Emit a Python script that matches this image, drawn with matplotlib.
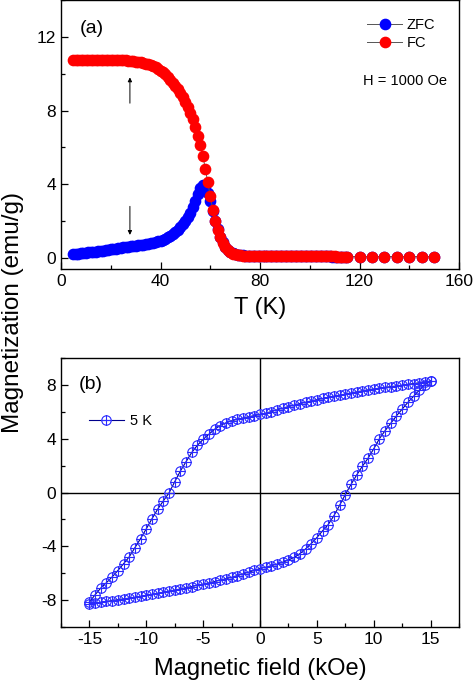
import numpy as np
import matplotlib
matplotlib.use("Agg")
import matplotlib.pyplot as plt
from matplotlib.path import Path
from matplotlib.ticker import MultipleLocator

plt.rcParams["font.family"] = ["Liberation Sans", "DejaVu Sans"]
plt.rcParams["axes.unicode_minus"] = False

# ---- panel (a): M(T), ZFC / FC at H = 1000 Oe ----
temperature = np.concatenate([np.arange(5, 116), np.arange(120, 151, 5)])

zfc = [
    0.22, 0.23, 0.24, 0.25, 0.27, 0.28, 0.30, 0.31, 0.33, 0.34,  # 5-14
    0.36, 0.38, 0.40, 0.42, 0.44, 0.47, 0.49, 0.51, 0.53, 0.55,  # 15-24
    0.57, 0.59, 0.61, 0.63, 0.65, 0.67, 0.69, 0.71, 0.73, 0.75,  # 25-34
    0.77, 0.80, 0.83, 0.86, 0.90, 0.94, 0.99, 1.05, 1.12, 1.20,  # 35-44
    1.30, 1.41, 1.53, 1.67, 1.83, 2.01, 2.22, 2.46, 2.75, 3.08,  # 45-54
    3.45, 3.80, 3.98, 3.88, 3.55, 3.10, 2.55, 2.02, 1.55, 1.16,  # 55-64
    0.85, 0.60, 0.43, 0.32, 0.25, 0.20, 0.17, 0.15, 0.14, 0.13,  # 65-74
    0.12, 0.12, 0.11, 0.11, 0.11, 0.10, 0.10, 0.10, 0.10, 0.10,  # 75-84
    0.10, 0.09, 0.09, 0.09, 0.09, 0.09, 0.09, 0.09, 0.09, 0.08,  # 85-94
    0.08, 0.08, 0.08, 0.08, 0.08, 0.08, 0.08, 0.08, 0.08, 0.08,  # 95-104
    0.08, 0.08, 0.08, 0.08, 0.07, 0.07, 0.07, 0.07, 0.07, 0.07, 0.07,  # 105-115
    0.07, 0.07, 0.07, 0.07, 0.07, 0.07, 0.07,                    # 120-150
]

fc = [
    10.76, 10.76, 10.76, 10.76, 10.76, 10.75, 10.75, 10.75, 10.75, 10.75,  # 5-14
    10.75, 10.75, 10.75, 10.75, 10.75, 10.75, 10.74, 10.74, 10.74, 10.73,  # 15-24
    10.73, 10.72, 10.71, 10.70, 10.68, 10.66, 10.64, 10.61, 10.58, 10.55,  # 25-34
    10.52, 10.47, 10.41, 10.34, 10.26, 10.17, 10.07, 9.96, 9.83, 9.68,     # 35-44
    9.52, 9.35, 9.16, 8.95, 8.72, 8.47, 8.19, 7.88, 7.52, 7.10,            # 45-54
    6.62, 6.12, 5.55, 4.85, 4.10, 3.35, 2.62, 2.00, 1.50, 1.12,            # 55-64
    0.82, 0.58, 0.42, 0.31, 0.24, 0.19, 0.16, 0.14, 0.13, 0.12,            # 65-74
    0.12, 0.11, 0.11, 0.11, 0.10, 0.10, 0.10, 0.10, 0.10, 0.10,            # 75-84
    0.09, 0.09, 0.09, 0.09, 0.09, 0.09, 0.09, 0.09, 0.09, 0.09,            # 85-94
    0.08, 0.08, 0.08, 0.08, 0.08, 0.08, 0.08, 0.08, 0.08, 0.08,            # 95-104
    0.08, 0.08, 0.08, 0.08, 0.08, 0.08, 0.07, 0.07, 0.07, 0.07, 0.07,      # 105-115
    0.07, 0.07, 0.07, 0.07, 0.07, 0.07, 0.07,                              # 120-150
]

# ---- panel (b): M(H) loop at 5 K ----
field_down = np.arange(15, -15.01, -0.5)
m_down = [
    8.28, 8.22, 8.16, 8.10, 8.04, 7.98, 7.92, 7.87, 7.82, 7.76,   # 15 .. 10.5
    7.70, 7.63, 7.56, 7.48, 7.40, 7.32, 7.24, 7.16, 7.07, 6.99,   # 10 .. 5.5
    6.90, 6.81, 6.71, 6.61, 6.50, 6.39, 6.27, 6.15, 6.02, 5.90,   # 5 .. 0.5
    5.80, 5.72, 5.63, 5.54, 5.44, 5.33, 5.18, 4.98, 4.70, 4.33,   # 0 .. -4.5
    3.95, 3.52, 2.98, 2.30, 1.60, 0.80, -0.03, -0.62, -1.24, -1.95,  # -5 .. -9.5
    -2.70, -3.42, -4.10, -4.78, -5.30, -5.80, -6.27, -6.70, -7.10, -7.60,  # -10 .. -14.5
    -8.15,                                                          # -15
]
field_up = np.arange(-15, 15.01, 0.5)
m_up = [
    -8.28, -8.22, -8.16, -8.10, -8.03, -7.97, -7.91, -7.85, -7.79, -7.72,  # -15 .. -10.5
    -7.65, -7.57, -7.49, -7.41, -7.33, -7.25, -7.17, -7.08, -6.99, -6.90,  # -10 .. -5.5
    -6.81, -6.72, -6.62, -6.52, -6.41, -6.30, -6.18, -6.05, -5.92, -5.79,  # -5 .. -0.5
    -5.65, -5.55, -5.44, -5.32, -5.18, -5.02, -4.83, -4.55, -4.20, -3.80,  # 0 .. 4.5
    -3.35, -2.85, -2.38, -1.72, -0.95, -0.15, 0.60, 1.30, 1.95, 2.55,      # 5 .. 9.5
    3.25, 4.00, 4.60, 5.15, 5.70, 6.20, 6.70, 7.15, 7.60, 8.00,            # 10 .. 14.5
    8.28,                                                                   # 15
]
field = np.concatenate([field_down, field_up])
moment = np.concatenate([m_down, m_up])

# circle with a cross inside, used as marker for the loop
circ = Path.unit_circle()
cross = Path([(-1, 0), (1, 0), (0, -1), (0, 1)],
             [Path.MOVETO, Path.LINETO, Path.MOVETO, Path.LINETO])
circle_plus = Path.make_compound_path(circ, cross)

fig = plt.figure(figsize=(4.74, 6.91), dpi=100)
ax1 = fig.add_axes([0.1287, 0.6107, 0.8397, 0.3893])
ax2 = fig.add_axes([0.1287, 0.0926, 0.8397, 0.3893])

ax1.plot(temperature, zfc, "-o", color="#555555", lw=0.7, ms=7.4,
         mfc="#0000ff", mec="#0000ff", label="ZFC")
ax1.plot(temperature, fc, "-o", color="#555555", lw=0.7, ms=7.4,
         mfc="#ff0000", mec="#ff0000", label="FC")
ax1.set_xlim(0, 160)
ax1.set_ylim(-0.6, 14.0)
ax1.xaxis.set_major_locator(MultipleLocator(40))
ax1.xaxis.set_minor_locator(MultipleLocator(20))
ax1.yaxis.set_major_locator(MultipleLocator(4))
ax1.yaxis.set_minor_locator(MultipleLocator(2))
ax1.set_xlabel("T (K)", fontsize=17, labelpad=6)
ax1.text(7.5, 12.45, "(a)", fontsize=14, va="center")
ax1.text(155, 9.6, "H = 1000 Oe", fontsize=10.5, ha="right", va="center")
ax1.annotate("", xy=(27.7, 9.8), xytext=(27.7, 8.4),
             arrowprops=dict(arrowstyle="-|>", color="black", lw=0.7,
                             mutation_scale=6, shrinkA=0, shrinkB=0))
ax1.annotate("", xy=(27.7, 1.25), xytext=(27.7, 2.8),
             arrowprops=dict(arrowstyle="-|>", color="black", lw=0.7,
                             mutation_scale=6, shrinkA=0, shrinkB=0))
ax1.legend(loc="upper right", bbox_to_anchor=(0.955, 0.955), frameon=False,
           fontsize=10.5, handlelength=2.4, handletextpad=0.3,
           labelspacing=0.3, borderaxespad=0)

ax2.axhline(0, color="black", lw=1.0, zorder=1)
ax2.axvline(0, color="black", lw=1.0, zorder=1)
ax2.plot(field, moment, color="#00008b", lw=0.8, marker=circle_plus, ms=6.8,
         mfc="none", mec="#2a2aff", mew=0.8, label="5 K", zorder=2)
ax2.set_xlim(-17.5, 17.5)
ax2.set_ylim(-10, 10)
ax2.xaxis.set_major_locator(MultipleLocator(5))
ax2.xaxis.set_minor_locator(MultipleLocator(2.5))
ax2.yaxis.set_major_locator(MultipleLocator(4))
ax2.yaxis.set_minor_locator(MultipleLocator(2))
ax2.set_xlabel("Magnetic field (kOe)", fontsize=17, labelpad=8)
ax2.text(-15.9, 8.0, "(b)", fontsize=14, va="center")
ax2.legend(loc="upper left", bbox_to_anchor=(0.055, 0.815), frameon=False,
           fontsize=10.5, handlelength=2.4, handletextpad=0.4, borderaxespad=0)

for ax in (ax1, ax2):
    ax.tick_params(which="both", direction="in", top=False, right=False,
                   labelsize=12.5, width=0.9)
    ax.tick_params(which="major", length=5)
    ax.tick_params(which="minor", length=3)
    for sp in ax.spines.values():
        sp.set_linewidth(1.0)

fig.text(0.027, 0.548, "Magnetization (emu/g)", rotation=90, fontsize=17.5,
         ha="center", va="center")

fig.savefig("out.png", dpi=100)
